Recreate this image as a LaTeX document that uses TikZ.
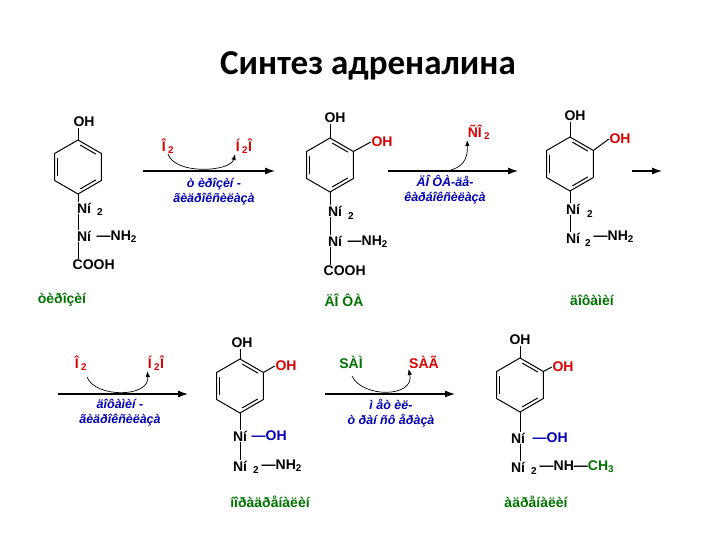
\documentclass[tikz,border=0pt]{standalone}
\usepackage{fontspec}
\setmainfont{Liberation Sans}
\newfontfamily\titlefont{Carlito}
\usetikzlibrary{calc,arrows.meta}
\tikzset{
 bd/.style={line width=1pt,black},
 atm/.style={font=\bfseries\fontsize{14}{15}\selectfont,inner sep=0.5pt},
 sub/.style={font=\bfseries\fontsize{10}{11}\selectfont,inner sep=0.5pt},
 rt/.style={atm,red!85!black},
 enz/.style={font=\bfseries\itshape\fontsize{12.5}{15}\selectfont,blue!70!black,align=center,inner sep=0pt},
 nm/.style={font=\bfseries\fontsize{14}{15}\selectfont,green!45!black},
 rxn/.style={line width=1.2pt,-{Latex[length=10pt,width=7pt]}},
 cur/.style={line width=0.7pt,-{Latex[length=6pt,width=4.5pt]}}
}
\newcommand\benz[3]{%
 \coordinate (#1) at (#2,#3);
 \foreach \a in {90,150,...,450}{\coordinate (#1v\a) at ($(#1)+(\a:27)$);}
 \draw[bd] (#1v90)--(#1v150)--(#1v210)--(#1v270)--(#1v330)--(#1v390)--cycle;
 \foreach \a/\b in {150/210,30/90,270/330}{\draw[bd] ($(#1)+(\a+6:22)$)--($(#1)+(\b-6:22)$);}
}
\begin{document}
\begin{tikzpicture}[x=1pt,y=-1pt]
\useasboundingbox (0,0) rectangle (720,540);
\node[font=\titlefont\bfseries\fontsize{35}{40}\selectfont] (title) at (368,66) {Синтез адреналина};
% ---- structure 1: tyrosine
\benz{r1}{78}{167}
\node[atm] (o1) at (84,122) {OH};
\draw[bd] (r1v270) -- (o1.south -| r1v270);
\node[atm] (n1a) at (84,208) {Ní};
\node[sub] at (100,212) {2};
\draw[bd] (r1v90) -- (n1a.north -| r1v90);
\node[atm] (n1b) at (84,236) {Ní};
\node[atm,anchor=west] (nh1) at (96,237) {—NH\textsubscript{2}};
\node[atm,anchor=west] (co1) at (72,265) {COOH};
\draw[bd] (n1a.south -| r1v90) -- (n1b.north -| r1v90);
\draw[bd] (n1b.south -| r1v90) -- (co1.north -| r1v90);
\node[nm] (l1) at (62,300) {òèðîçèí};
% arrow 1
\coordinate (a1s) at (143,171); \coordinate (a1e) at (275,171);
\draw[rxn] (a1s) -- (a1e);
\node[rt] (p1) at (168,146) {Î\,\textsubscript{2}};
\node[rt] (q1) at (244,146) {Í\,\textsubscript{2}Î};
\draw[cur] (p1.south) ..controls (175,175) and (230,172) .. (q1.south west);
\node[enz] (e1) at (214,192) {ò èðîçèí -\\ãèäðîêñèëàçà};
% ---- structure 2: DOPA
\benz{r2}{330}{165}
\node[atm] (o2) at (335,118) {OH};
\draw[bd] (r2v270) -- (o2.south -| r2v270);
\node[rt] (o2b) at (382,142) {OH};
\draw[bd] (r2v330) -- (o2b.west);
\node[atm] (n2a) at (335,211) {Ní};
\node[sub] at (351,216) {2};
\draw[bd] (r2v90) -- (n2a.north -| r2v90);
\node[atm] (n2b) at (335,241) {Ní};
\node[atm,anchor=west] at (347,242) {—NH\textsubscript{2}};
\node[atm,anchor=west] (co2) at (323,271) {COOH};
\draw[bd] (n2a.south -| r2v90) -- (n2b.north -| r2v90);
\draw[bd] (n2b.south -| r2v90) -- (co2.north -| r2v90);
\node[nm] (l2) at (344,300) {ÄÎ ÔÀ};
% arrow 2
\coordinate (a2s) at (388,171); \coordinate (a2e) at (518,171);
\draw[rxn] (a2s) -- (a2e);
\node[rt] (p2) at (479,132) {ÑÎ\,\textsubscript{2}};
\draw[cur] (447,171) ..controls (462,168) and (468,160) .. (p2.south west);
\node[enz] (e2) at (445,190) {ÄÎ ÔÀ-äå-\\êàðáîêñèëàçà};
% ---- structure 3: dopamine
\benz{r3}{570}{164}
\node[atm] (o3) at (575,116) {OH};
\draw[bd] (r3v270) -- (o3.south -| r3v270);
\node[rt] (o3b) at (620,139) {OH};
\draw[bd] (r3v330) -- (o3b.west);
\node[atm] (n3a) at (573,209) {Ní};
\node[sub] at (590,214) {2};
\draw[bd] (r3v90) -- (n3a.north -| r3v90);
\node[atm] (n3b) at (573,238) {Ní};
\node[sub] at (588,243) {2};
\node[atm,anchor=west] at (593,237) {—NH\textsubscript{2}};
\draw[bd] (n3a.south -| r3v90) -- (n3b.north -| r3v90);
\node[nm] (l3) at (592,300) {äîôàìèí};
\coordinate (a3s) at (632,171); \coordinate (a3e) at (662,171);
\draw[rxn] (a3s) -- (a3e);
% ---- arrow 4
\coordinate (a4s) at (58,394); \coordinate (a4e) at (188,394);
\draw[rxn] (a4s) -- (a4e);
\node[rt] (p4) at (81,363) {Î\,\textsubscript{2}};
\node[rt] (q4) at (156,363) {Í\,\textsubscript{2}Î};
\draw[cur] (87,377) ..controls (95,398) and (150,398) .. (q4.south west);
\node[enz] (e4) at (120,413) {äîôàìèí -\\ãèäðîêñèëàçà};
% ---- structure 4: noradrenaline
\benz{r4}{240}{386}
\node[atm] (o4) at (242,343) {OH};
\draw[bd] (r4v270) -- (o4.south -| r4v270);
\node[rt] (o4b) at (286,366) {OH};
\draw[bd] (r4v330) -- (o4b.west);
\node[atm] (n4a) at (240,436) {Ní};
\node[atm,anchor=west,blue!70!black] at (251,436) {—OH};
\draw[bd] (r4v90) -- (n4a.north -| r4v90);
\node[atm] (n4b) at (240,466) {Ní};
\node[sub] at (256,470) {2};
\node[atm,anchor=west] at (261,466) {—NH\textsubscript{2}};
\draw[bd] (n4a.south -| r4v90) -- (n4b.north -| r4v90);
\node[nm] (l4) at (270,502) {íîðàäðåíàëèí};
% ---- arrow 5
\coordinate (a5s) at (325,394); \coordinate (a5e) at (455,394);
\draw[rxn] (a5s) -- (a5e);
\node[atm,green!45!black] (p5) at (351,362) {SÀÌ};
\node[rt] (q5) at (424,362) {SÀÃ};
\draw[cur] (352,376) ..controls (362,398) and (415,398) .. (q5.south west);
\node[enz] (e5) at (391,413) {ì åò èë-\\ò ðàí ñô åðàçà};
% ---- structure 5: adrenaline
\benz{r5}{520}{385}
\node[atm] (o5) at (520,340) {OH};
\draw[bd] (r5v270) -- (o5.south -| r5v270);
\node[rt] (o5b) at (563,367) {OH};
\draw[bd] (r5v330) -- (o5b.west);
\node[atm] (n5a) at (518,438) {Ní};
\node[atm,anchor=west,blue!70!black] at (532,438) {—OH};
\draw[bd] (r5v90) -- (n5a.north -| r5v90);
\node[atm] (n5b) at (518,467) {Ní};
\node[sub] at (534,471) {2};
\node[atm,anchor=west] at (539,467) {—NH—\textcolor{green!45!black}{CH\textsubscript{3}}};
\draw[bd] (n5a.south -| r5v90) -- (n5b.north -| r5v90);
\node[nm] (l5) at (536,502) {àäðåíàëèí};
\end{tikzpicture}
\end{document}
